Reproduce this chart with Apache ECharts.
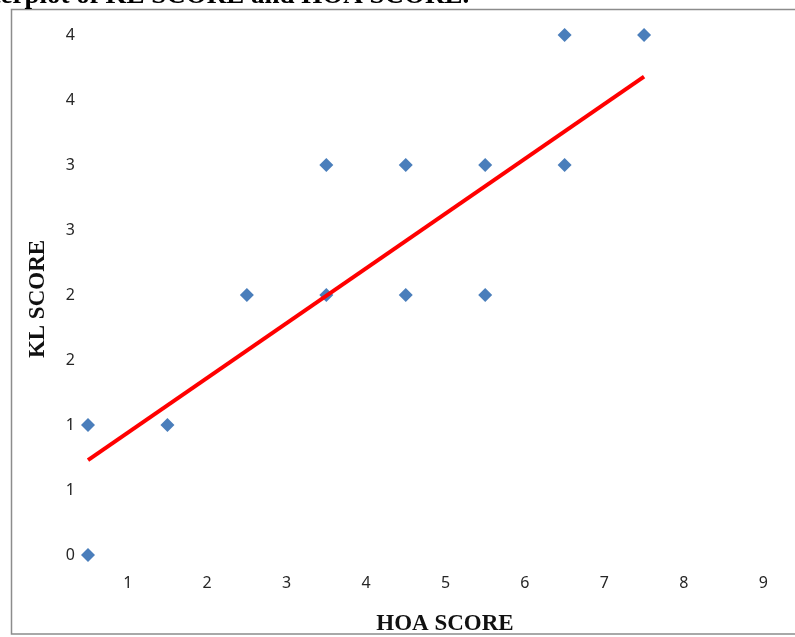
<!DOCTYPE html>
<html>
<head>
<meta charset="utf-8">
<script src="https://cdn.jsdelivr.net/npm/echarts@6/dist/echarts.min.js"></script>
<style>
html,body{margin:0;padding:0;background:#fff;}
#chart{width:795px;height:637px;}
</style>
</head>
<body>
<div id="chart"></div>
<script>
// Data
var hoaScore = [0.5, 0.5, 1.5, 2.5, 3.5, 3.5, 4.5, 4.5, 5.5, 5.5, 6.5, 6.5, 7.5];
var klScore  = [0,   1,   1,   2,   2,   3,   3,   2,   3,   2,   4,   3,   4];
var trendX = [0.5, 7.5];
var trendY = [0.73, 3.68];
var xTickValues = [1, 2, 3, 4, 5, 6, 7, 8, 9];
var yTickLabels = ['0', '1', '1', '2', '2', '3', '3', '4', '4'];
var titleText = 'Scatterplot of KL SCORE and HOA SCORE.';
var xTitle = 'HOA SCORE';
var yTitle = 'KL SCORE';

var points = hoaScore.map(function (x, i) { return [x, klScore[i]]; });
var trend = trendX.map(function (x, i) { return [x, trendY[i]]; });

var chart = echarts.init(document.getElementById('chart'), null, {renderer: 'canvas'});
var labelFont = {fontFamily: 'Noto Sans', fontSize: 16, color: '#262626'};

chart.setOption({
  animation: false,
  backgroundColor: '#fff',
  grid: {left: 88, right: 0, top: 35, bottom: 82, containLabel: false},
  xAxis: {
    type: 'value', min: 0.5, max: 9.4,
    axisLine: {show: false}, axisTick: {show: false}, splitLine: {show: false},
    axisLabel: Object.assign({
      customValues: xTickValues,
      margin: 20,
      formatter: function (v) { return String(Math.round(v)); }
    }, labelFont)
  },
  yAxis: {
    type: 'value', min: 0, max: 4, interval: 0.5,
    axisLine: {show: false}, axisTick: {show: false}, splitLine: {show: false},
    axisLabel: Object.assign({
      margin: 13,
      formatter: function (v) { return yTickLabels[Math.round(v / 0.5)]; }
    }, labelFont)
  },
  series: [
    {
      type: 'scatter', data: points, symbol: 'diamond', symbolSize: 14,
      itemStyle: {color: '#4a7ebb', opacity: 1}, z: 2
    },
    {
      type: 'line', data: trend, symbol: 'none',
      lineStyle: {color: '#ff0000', width: 4}, z: 3
    }
  ],
  graphic: [
    {
      type: 'rect', silent: true,
      shape: {x: 11.5, y: 9.5, width: 800, height: 624.5},
      style: {fill: 'none', stroke: '#8c8c8c', lineWidth: 1.5}, z: 0
    },
    {
      type: 'text', x: -58, y: -4, silent: true,
      style: {text: titleText, font: 'bold 27px "Liberation Serif"', fill: '#000',
              align: 'left', verticalAlign: 'middle'}
    },
    {
      type: 'text', x: 445, y: 624, silent: true,
      style: {text: xTitle, font: 'bold 23px "Liberation Serif"', fill: '#111',
              align: 'center', verticalAlign: 'middle'}
    },
    {
      type: 'text', x: 38, y: 299, rotation: Math.PI / 2, silent: true,
      style: {text: yTitle, font: 'bold 23px "Liberation Serif"', fill: '#111',
              align: 'center', verticalAlign: 'middle'}
    }
  ]
});
</script>
</body>
</html>
